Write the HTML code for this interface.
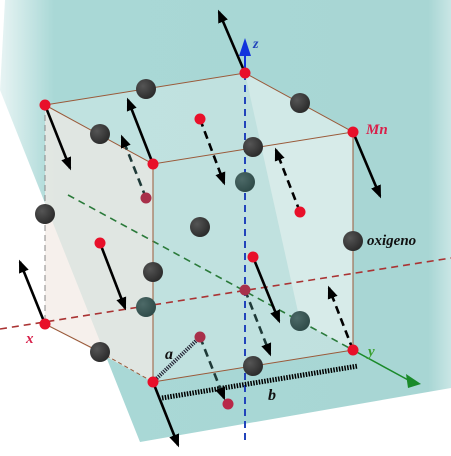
<!DOCTYPE html>
<html><head><meta charset="utf-8"><style>
html,body{margin:0;padding:0;background:#fff;width:451px;height:456px;overflow:hidden}
svg{display:block}
text{font-family:"Liberation Serif",serif;font-style:italic;font-weight:bold}
</style></head><body>
<svg width="451" height="456" viewBox="0 0 451 456">
<defs>
<linearGradient id="pl" x1="0" y1="0" x2="1" y2="0">
<stop offset="0" stop-color="#e8f4f4"/><stop offset="0.12" stop-color="#a9d8d6"/><stop offset="0.95" stop-color="#a8d6d4"/><stop offset="1" stop-color="#c9e6e5"/></linearGradient>
<radialGradient id="ox" cx="0.35" cy="0.35" r="0.7"><stop offset="0" stop-color="#555"/><stop offset="1" stop-color="#2a2a2a"/></radialGradient>
<radialGradient id="oxi" cx="0.35" cy="0.35" r="0.7"><stop offset="0" stop-color="#4d6a68"/><stop offset="1" stop-color="#2e4a48"/></radialGradient>
<marker id="ah" viewBox="0 0 10 10" refX="8" refY="5" markerWidth="5" markerHeight="5" orient="auto"><path d="M0,1 L10,5 L0,9 z" fill="#000"/></marker>
</defs>
<polygon points="5,0 451,0 451,388 140,442 0,90" fill="url(#pl)"/>
<polygon points="45,105 153,164 153,382 45,324" fill="#f3ebe6" opacity="0.75"/>
<polygon points="153,164 353,132 353,350 153,382" fill="#e4efed" opacity="0.4"/>
<polygon points="245,73 353,132 353,350 300,321" fill="#eef5f3" opacity="0.5"/>
<polygon points="45,105 245,73 353,132 153,164" fill="#d8ebe9" opacity="0.5"/>
<g stroke-dasharray="7,5" stroke-width="1.6" fill="none">
<line x1="0" y1="329" x2="451" y2="258" stroke="#a33"/>
<line x1="68" y1="195" x2="353" y2="350" stroke="#2a7a3a"/>
<line x1="245" y1="440" x2="245" y2="55" stroke="#2244bb" stroke-width="2"/>
</g>
<line x1="353" y1="350" x2="410" y2="381" stroke="#1a8a2a" stroke-width="1.5"/>
<polygon points="406,374 421,384 408,388" fill="#1a8a2a"/>
<polygon points="239,56 245,38 251,56" fill="#1133dd"/>
<line x1="245" y1="73" x2="245" y2="55" stroke="#1133dd" stroke-width="2"/>
<g stroke="#9a5a3a" stroke-width="1" fill="none">
<polyline points="45,105 245,73 353,132 153,164 45,105"/>
<line x1="153" y1="164" x2="153" y2="382"/>
<line x1="353" y1="132" x2="353" y2="350"/>
<line x1="45" y1="105" x2="45" y2="324" stroke-dasharray="6,4" stroke="#888"/>
<line x1="45" y1="324" x2="100" y2="352"/>
<line x1="100" y1="352" x2="153" y2="382" stroke-dasharray="4,3"/>
<line x1="153" y1="382" x2="353" y2="350"/>
</g>
<line x1="155" y1="380" x2="198" y2="339" stroke="#223" stroke-width="4" stroke-dasharray="1.2,1.2"/>
<line x1="162" y1="398" x2="358" y2="366" stroke="#000" stroke-width="5" stroke-dasharray="1.5,1.3"/>
<g stroke="#000" stroke-width="2.6" marker-end="url(#ah)">
<line x1="245" y1="73" x2="219" y2="12"/>
<line x1="45" y1="105" x2="70" y2="168"/>
<line x1="153" y1="164" x2="128" y2="100"/>
<line x1="353" y1="132" x2="380" y2="196"/>
<line x1="45" y1="324" x2="20" y2="262"/>
<line x1="153" y1="382" x2="178" y2="445"/>
<line x1="100" y1="243" x2="125" y2="308"/>
<line x1="253" y1="257" x2="279" y2="321"/>
</g>
<g stroke="#000" stroke-width="2.6" stroke-dasharray="8,5" marker-end="url(#ah)">
<line x1="200" y1="119" x2="224" y2="183"/>
<line x1="300" y1="212" x2="276" y2="150"/>
<line x1="146" y1="198" x2="122" y2="137" stroke="#1f3a38"/>
<line x1="245" y1="290" x2="270" y2="354" stroke="#1f3a38"/>
<line x1="200" y1="337" x2="224" y2="398" stroke="#1f3a38"/>
<line x1="353" y1="350" x2="329" y2="288"/>
</g>
<g>
<circle cx="146" cy="89" r="10" fill="url(#ox)"/><circle cx="100" cy="134" r="10" fill="url(#ox)"/>
<circle cx="300" cy="103" r="10" fill="url(#ox)"/><circle cx="253" cy="147" r="10" fill="url(#ox)"/>
<circle cx="45" cy="214" r="10" fill="url(#ox)"/><circle cx="153" cy="272" r="10" fill="url(#ox)"/>
<circle cx="353" cy="241" r="10" fill="url(#ox)"/><circle cx="100" cy="352" r="10" fill="url(#ox)"/>
<circle cx="253" cy="366" r="10" fill="url(#ox)"/><circle cx="200" cy="227" r="10" fill="url(#ox)"/>
<circle cx="245" cy="182" r="10" fill="url(#oxi)"/><circle cx="146" cy="307" r="10" fill="url(#oxi)"/>
<circle cx="300" cy="321" r="10" fill="url(#oxi)"/>
</g>
<g fill="#e8102a">
<circle cx="245" cy="73" r="5.5"/><circle cx="45" cy="105" r="5.5"/><circle cx="153" cy="164" r="5.5"/>
<circle cx="353" cy="132" r="5.5"/><circle cx="45" cy="324" r="5.5"/><circle cx="153" cy="382" r="5.5"/>
<circle cx="353" cy="350" r="5.5"/><circle cx="200" cy="119" r="5.5"/><circle cx="300" cy="212" r="5.5"/>
<circle cx="100" cy="243" r="5.5"/><circle cx="253" cy="257" r="5.5"/>
<circle cx="146" cy="198" r="5.5" fill="#a8304a"/><circle cx="245" cy="290" r="5.5" fill="#a8304a"/>
<circle cx="200" cy="337" r="5.5" fill="#a8304a"/><circle cx="228" cy="404" r="5.5" fill="#b82848"/>
</g>
<text x="253" y="48" fill="#2244bb" font-size="14">z</text>
<text x="366" y="134" fill="#d8204a" font-size="15">Mn</text>
<text x="367" y="245" fill="#111" font-size="15">oxigeno</text>
<text x="26" y="343" fill="#d8204a" font-size="15">x</text>
<text x="368" y="356" fill="#3aa030" font-size="15">y</text>
<text x="165" y="359" fill="#111" font-size="16">a</text>
<text x="268" y="400" fill="#111" font-size="16">b</text>
</svg>
</body></html>
